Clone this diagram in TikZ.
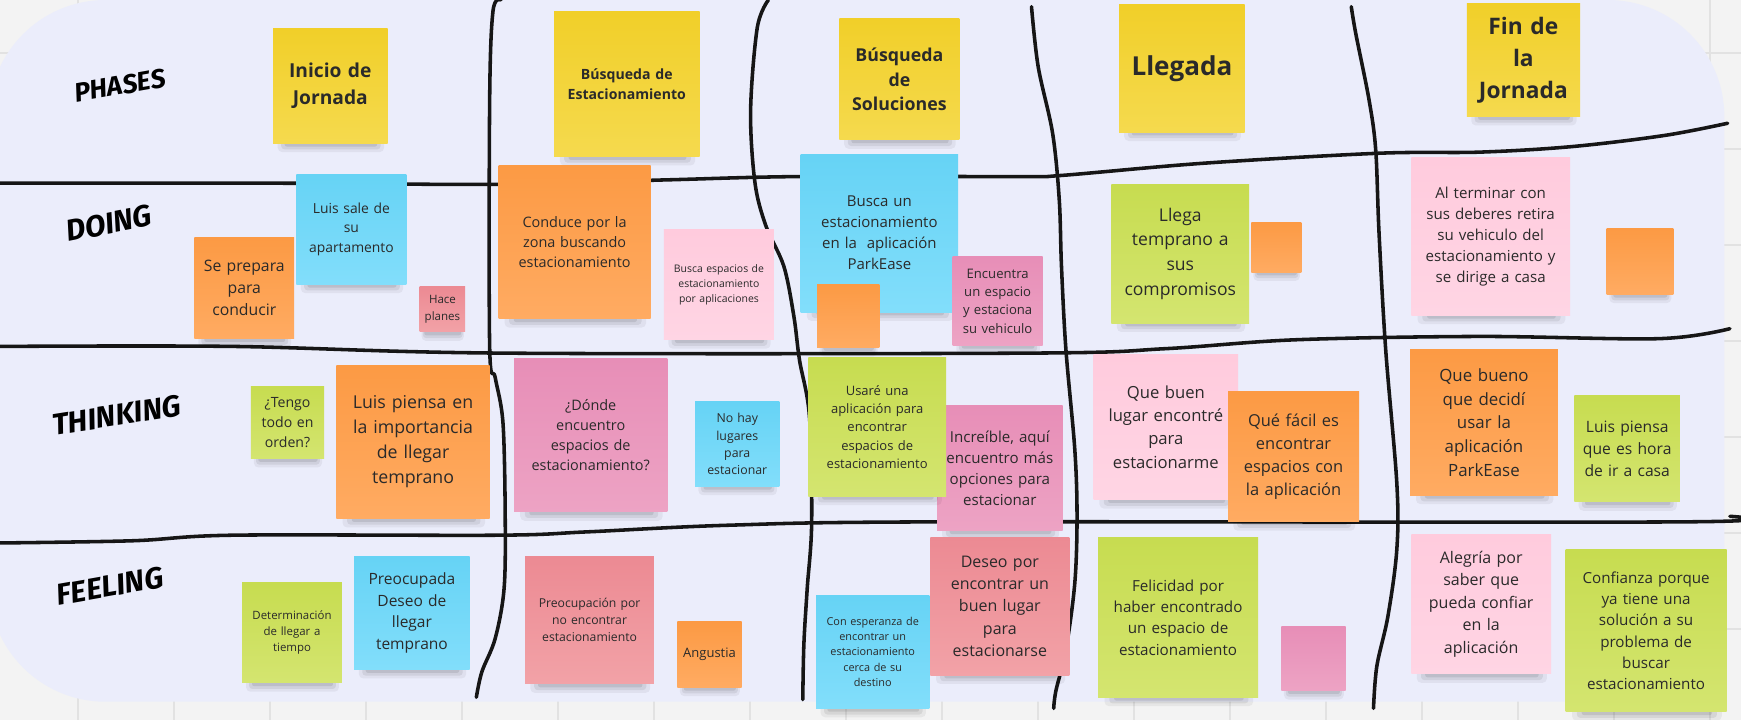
\documentclass[tikz,border=0pt]{standalone}
\usepackage{fontspec}
\setmainfont{Open Sans}
\newfontfamily\markerfont{Fira Sans}
\definecolor{bgout}{HTML}{F3F3F3}
\definecolor{gridc}{HTML}{E2E2E2}
\definecolor{lav}{HTML}{EBEDFB}
\definecolor{linec}{HTML}{161616}
\definecolor{ink}{HTML}{2A2A2A}
\definecolor{yeltop}{HTML}{F1CF29}\definecolor{yelbot}{HTML}{F5DA4E}
\definecolor{orgtop}{HTML}{FC9A44}\definecolor{orgbot}{HTML}{FFAB62}
\definecolor{blutop}{HTML}{66D3F5}\definecolor{blubot}{HTML}{82DEFB}
\definecolor{lpktop}{HTML}{FFCBDD}\definecolor{lpkbot}{HTML}{FFD5E4}
\definecolor{pnktop}{HTML}{E78EB7}\definecolor{pnkbot}{HTML}{EDA3C4}
\definecolor{sltop}{HTML}{EC8A93}\definecolor{slbot}{HTML}{F2A2A7}
\definecolor{grntop}{HTML}{C7DC50}\definecolor{grnbot}{HTML}{D4E570}
\tikzset{
  stickybox/.style={rectangle, inner sep=0pt, align=center, text=ink},
  handline/.style={draw=linec, line width=3.2pt, line cap=round, line join=round},
  rowlabel/.style={text=black, inner sep=0pt},
  gridline/.style={draw=gridc, line width=1pt},
}
\newcommand{\StickyNote}[8]{%
  \pgfmathsetmacro{\snw}{#4-#2}%
  \pgfmathsetmacro{\snh}{#5-#3}%
  \pgfmathsetmacro{\sncx}{(#2+#4)/2}%
  \pgfmathsetmacro{\sncy}{(#3+#5)/2}%
  \pgfmathsetmacro{\sntw}{0.96*\snw}%
  \pgfmathsetmacro{\snbs}{1.4*#7}%
  \fill[black, opacity=0.05, rounded corners=4pt] ({#2+0.04*\snw},{#5-4}) rectangle ({#4-0.03*\snw},{#5+8});
  \fill[black, opacity=0.07, rounded corners=3pt] ({#2+0.07*\snw},{#5-3}) rectangle ({#4-0.06*\snw},{#5+5.5});
  \fill[black, opacity=0.09, rounded corners=2pt] ({#2+0.10*\snw},{#5-2}) rectangle ({#4-0.09*\snw},{#5+3});
  \node[stickybox, top color=#6top, bottom color=#6bot, minimum width=\snw pt, minimum height=\snh pt, text width=\sntw pt, font=\fontsize{#7pt}{\snbs pt}\selectfont] (#1) at (\sncx,\sncy) {#8};
}
\begin{document}
\begin{tikzpicture}[x=1pt,y=-1pt]
\useasboundingbox (0,0) rectangle (1568,648);
\fill[bgout] (0,0) rectangle (1568,648);
\foreach \gx in {0,...,17} \draw[gridline] ({70.25+86.46*\gx},0) -- ({70.25+86.46*\gx},648);
\foreach \gy in {0,...,7} \draw[gridline] (0,{47.7+86.46*\gy}) -- (1568,{47.7+86.46*\gy});
\fill[lav, rounded corners=105pt] (-10,0) rectangle (1553,632);

% horizontal lines
\draw[handline] plot[smooth, tension=0.55] coordinates {(0,165) (250,165) (450,166) (600,162) (721,159) (919,159) (956,158) (1084,147) (1242,138) (1333,137) (1416,132) (1499,122) (1556,111)};
\draw[handline] plot[smooth, tension=0.55] coordinates {(0,312) (210,312) (450,318) (930,318) (1050,314) (1167,306) (1333,303) (1494,305) (1558,296)};
\draw[handline] plot[smooth, tension=0.55] coordinates {(0,489) (120,487) (210,482) (450,482) (529,479) (657,473) (844,470) (1515,470) (1558,465)};
% vertical lines
\draw[handline] plot[smooth, tension=0.55] coordinates {(451,0) (444,10) (441,90) (441,312) (446,340) (453,381) (455,465) (454,530) (446,575) (434,605) (429,628)};
\draw[handline] plot[smooth, tension=0.55] coordinates {(692,0) (682,25) (676,100) (680,165) (690,204) (706,240) (715,285) (720,324) (729,375) (731,471) (727,530) (724,580) (723,630)};
\draw[handline] plot[smooth, tension=0.55] coordinates {(929,6) (935,60) (948,120) (954,180) (956,240) (960,315) (968,405) (970,465) (968,525) (960,585) (951,622) (949,638)};
\draw[handline] plot[smooth, tension=0.55] coordinates {(1217,6) (1221,30) (1233,90) (1239,135) (1242,210) (1248,315) (1258,435) (1258,495) (1250,555) (1240,600) (1237,638)};

% row labels
\node[rowlabel, rotate=10, font=\markerfont\bfseries\itshape\fontsize{24pt}{24pt}\selectfont] (phases) at (108,77) {PHASES};
\node[rowlabel, rotate=11, font=\markerfont\bfseries\itshape\fontsize{27pt}{27pt}\selectfont] (doing) at (98,201) {DOING};
\node[rowlabel, rotate=9, font=\markerfont\bfseries\itshape\fontsize{27pt}{27pt}\selectfont] (thinking) at (105,374) {THINKING};
\node[rowlabel, rotate=10, font=\markerfont\bfseries\itshape\fontsize{27pt}{27pt}\selectfont] (feeling) at (99,528) {FEELING};

% column 1
\StickyNote{ini}{246}{26}{349}{129}{yel}{17.3}{\bfseries Inicio de\\Jornada}
\StickyNote{luis}{267}{157}{366}{256}{blu}{12.5}{Luis sale de\\su\\apartamento}
\StickyNote{prep}{175}{214}{265}{305}{org}{14.2}{Se prepara\\para\\conducir}
\StickyNote{hace}{378}{258}{419}{299}{sl}{10.4}{Hace\\planes}
\StickyNote{tengo}{226}{348}{292}{413}{grn}{12.7}{¿Tengo\\todo en\\orden?}
\StickyNote{piensa}{303}{329}{441}{467}{org}{16}{Luis piensa en\\la importancia\\de llegar\\temprano}
\StickyNote{deter}{218}{525}{308}{615}{grn}{10.3}{Determinación\\de llegar a\\tiempo}
\StickyNote{preocupada}{319}{501}{423}{603}{blu}{14}{Preocupada\\Deseo de\\llegar\\temprano}
% column 2
\StickyNote{busq}{499}{10}{630}{141}{yel}{12.7}{\bfseries Búsqueda de\\Estacionamiento}
\StickyNote{conduce}{449}{149}{586}{287}{org}{13}{Conduce por la\\zona buscando\\estacionamiento}
\StickyNote{buscaesp}{598}{207}{697}{306}{lpk}{9.4}{Busca espacios de\\estacionamiento\\por aplicaciones}
\StickyNote{donde}{463}{323}{601}{461}{pnk}{13}{¿Dónde\\encuentro\\espacios de\\estacionamiento?}
\StickyNote{nohay}{626}{362}{702}{438}{blu}{11.1}{No hay\\lugares\\para\\estacionar}
\StickyNote{preocup}{473}{501}{589}{616}{sl}{11}{Preocupación por\\no encontrar\\estacionamiento}
\StickyNote{angustia}{610}{560}{668}{619}{org}{11.7}{Angustia}
% column 3
\StickyNote{busqsol}{756}{17}{864}{126}{yel}{16}{\bfseries Búsqueda\\de\\Soluciones}
\StickyNote{buscaun}{721}{139}{863}{281}{blu}{13.5}{Busca un\\estacionamiento\\en la~ aplicación\\ParkEase}
\StickyNote{encuentra}{858}{231}{939}{311}{pnk}{11.8}{Encuentra\\un espacio\\y estaciona\\su vehiculo}
\StickyNote{orgsqa}{736}{256}{792}{313}{org}{10}{}
\StickyNote{increible}{844}{365}{957}{478}{pnk}{13.6}{Increíble, aquí\\encuentro más\\opciones para\\estacionar}
\StickyNote{usare}{728}{322}{852}{447}{grn}{11.7}{Usaré una\\aplicación para\\encontrar\\espacios de\\estacionamiento}
\StickyNote{esperanza}{735}{536}{837}{638}{blu}{9.8}{Con esperanza de\\encontrar un\\estacionamiento\\cerca de su\\destino}
\StickyNote{deseo}{838}{484}{963}{608}{sl}{14.4}{Deseo por\\encontrar un\\buen lugar\\para\\estacionarse}
% column 4
\StickyNote{llegada}{1008}{4}{1121}{119}{yel}{23.5}{\bfseries Llegada}
\StickyNote{llega}{1001}{166}{1125}{291}{grn}{15.8}{Llega\\temprano a\\sus\\compromisos}
\StickyNote{orgsqb}{1127}{200}{1172}{245}{org}{10}{}
\StickyNote{quebuen}{985}{319}{1115}{450}{lpk}{15}{Que buen\\lugar encontré\\para\\estacionarme}
\StickyNote{quefacil}{1106}{353}{1224}{470}{org}{14.8}{Qué fácil es\\encontrar\\espacios con\\la aplicación}
\StickyNote{felicidad}{989}{484}{1133}{628}{grn}{13.7}{Felicidad por\\haber encontrado\\un espacio de\\estacionamiento}
\StickyNote{pnksq}{1154}{564}{1212}{622}{pnk}{10}{}
% column 5
\StickyNote{fin}{1321}{3}{1423}{105}{yel}{20.5}{\bfseries Fin de\\la\\Jornada}
\StickyNote{alterminar}{1271}{142}{1414}{284}{lpk}{13.6}{Al terminar con\\sus deberes retira\\su vehiculo del\\estacionamiento y\\se dirige a casa}
\StickyNote{orgsqc}{1447}{206}{1507}{265}{org}{10}{}
\StickyNote{quebueno}{1270}{315}{1403}{446}{org}{15.2}{Que bueno\\que decidí\\usar la\\aplicación\\ParkEase}
\StickyNote{luispiensa}{1418}{356}{1513}{452}{grn}{14.1}{Luis piensa\\que es hora\\de ir a casa}
\StickyNote{alegria}{1271}{481}{1397}{607}{lpk}{14.4}{Alegría por\\saber que\\pueda confiar\\en la\\aplicación}
\StickyNote{confianza}{1410}{495}{1555}{641}{grn}{13.7}{Confianza porque\\ya tiene una\\solución a su\\problema de\\buscar\\estacionamiento}
\end{tikzpicture}
\end{document}
